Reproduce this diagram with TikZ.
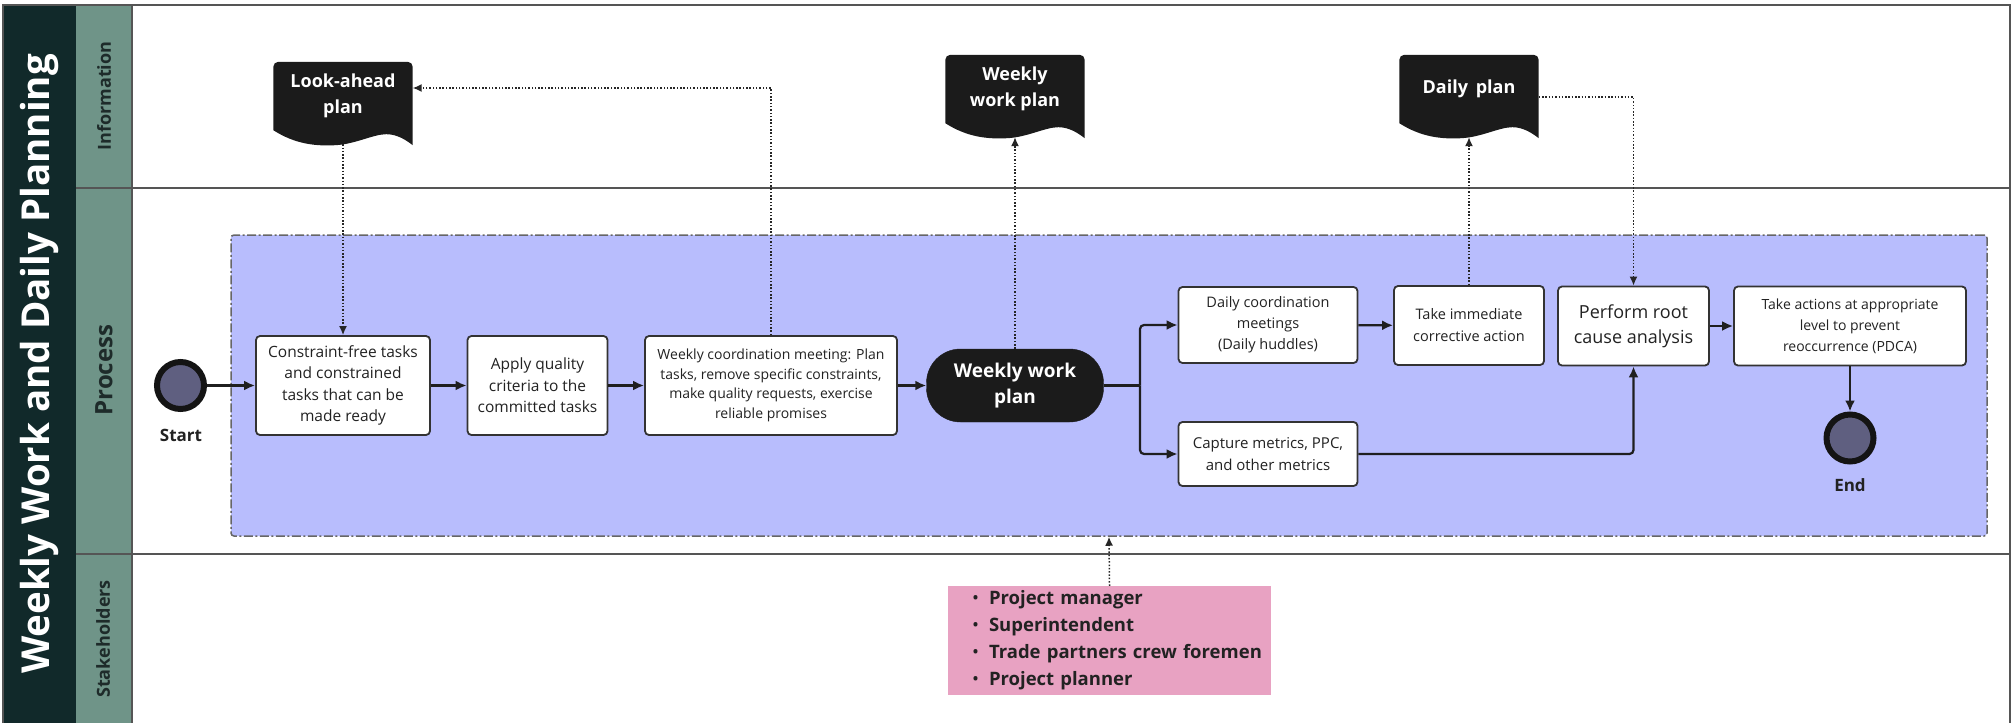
\documentclass[tikz,border=0pt]{standalone}
\usepackage{fontspec}
\setmainfont{Open Sans}
\usetikzlibrary{arrows.meta,calc}
\pgfdeclarelayer{bglayer}
\pgfdeclarelayer{doclayer}
\pgfsetlayers{bglayer,doclayer,main}
\definecolor{darkstrip}{HTML}{11292A}
\definecolor{greenstrip}{HTML}{6F9488}
\definecolor{lav}{HTML}{B8BDFD}
\definecolor{pinkbox}{HTML}{E8A2C2}
\definecolor{evfill}{HTML}{5F5F80}
\definecolor{docblack}{HTML}{1B1B1B}
\definecolor{boxline}{HTML}{333333}
\definecolor{laneline}{HTML}{555555}
\definecolor{txt}{HTML}{222222}
\definecolor{lanetxt}{HTML}{1E2B2A}
\newcommand{\docshape}[1]{%
  \begin{pgfonlayer}{doclayer}
  \fill[docblack] (#1.south west) [rounded corners=5pt] -- (#1.north west) -- (#1.north east) [sharp corners] -- ($(#1.south east)+(0,15)$)
    .. controls ($(#1.south west)+(133,10)$) and ($(#1.south west)+(124,4)$) .. ($(#1.south west)+(113,4)$)
    .. controls ($(#1.south west)+(100,4)$) and ($(#1.south west)+(82,14)$) .. ($(#1.south west)+(62,15)$)
    .. controls ($(#1.south west)+(42,16)$) and ($(#1.south west)+(22,14)$) .. (#1.south west) -- cycle;
  \end{pgfonlayer}}
\newcommand{\stakeitem}[1]{\hspace*{12pt}\makebox[17pt][l]{\mdseries\textbullet}\mbox{#1}}
\begin{document}
\begin{tikzpicture}[x=1pt,y=-1pt,
  taskbox/.style={draw=boxline,line width=1.8pt,fill=white,rounded corners=4pt,align=center,inner sep=2pt,text=txt,font=\fontsize{15.5}{21.5}\selectfont},
  planpill/.style={draw=docblack,fill=docblack,rounded corners=34pt,align=center,inner sep=2pt,text=white,font=\fontsize{19}{26}\selectfont\bfseries},
  evcircle/.style={circle,draw=black!92,line width=6pt,fill=evfill,minimum size=47pt,inner sep=0pt},
  evlabel/.style={text=txt,font=\fontsize{17}{20}\selectfont\bfseries,inner sep=0pt},
  docnode/.style={minimum width=139pt,minimum height=68pt,inner sep=0pt,align=center,text=white,font=\fontsize{18}{26}\selectfont\bfseries},
  lanelabel/.style={rotate=90,text=lanetxt,font=\fontsize{18}{21}\selectfont\bfseries,inner sep=0pt},
  flowarrow/.style={draw=black!88,line width=2.2pt,-{Latex[length=11pt,width=10pt]}},
  dotarrow/.style={draw=black!85,line width=1.5pt,dash pattern=on 1.5pt off 1.8pt,-{Latex[length=9pt,width=8pt]}},
  procarea/.style={draw=black!60,line width=1.5pt,fill=lav,rounded corners=3pt,dash pattern=on 9pt off 2.5pt on 2pt off 2.5pt,inner sep=0pt},
  stakebox/.style={fill=pinkbox,inner xsep=12pt,inner ysep=0pt,text width=299pt,align=left,text=txt,font=\fontsize{18.5}{27}\selectfont\bfseries}
]
\useasboundingbox (0,0) rectangle (2013,723);
\begin{pgfonlayer}{bglayer}
\fill[white] (0,0) rectangle (2013,723);
\end{pgfonlayer}
% lanes
\fill[darkstrip] (3,5) rectangle (76,723);
\fill[greenstrip] (76,5) rectangle (132,723);
\draw[laneline,line width=1.5pt] (3,723) -- (3,5) -- (2010,5) -- (2010,723);
\draw[laneline,line width=1.5pt] (76,188) -- (2010,188);
\draw[laneline,line width=1.5pt] (76,554) -- (2010,554);
\draw[laneline,line width=1.5pt] (132,5) -- (132,723);
\node[rotate=90,text=white,font=\fontsize{38.5}{44}\selectfont\bfseries] (title) at (39,364) {Weekly Work and Daily Planning};
\node[lanelabel] (lninfo) at (104,96) {Information};
\node[lanelabel,font=\fontsize{24}{28}\selectfont\bfseries] (lnproc) at (104,370) {Process};
\node[lanelabel] (lnstake) at (103,639) {Stakeholders};
% process container
\node[procarea,minimum width=1756pt,minimum height=301pt] (proc) at (1109,385.5) {};
% events
\node[evcircle] (start) at (180.5,385.5) {};
\node[evlabel] (startlbl) at (181,435) {Start};
\node[evcircle] (endc) at (1850,438) {};
\node[evlabel] (endlbl) at (1850,485) {End};
% tasks
\node[taskbox,minimum width=174pt,minimum height=99pt] (b1) at (343,385.5) {Constraint-free tasks\\and constrained\\tasks that can be\\made ready};
\node[taskbox,minimum width=140pt,minimum height=99pt] (b2) at (537.5,385.5) {Apply quality\\criteria to the\\committed tasks};
\node[taskbox,minimum width=252pt,minimum height=99pt,font=\fontsize{14}{19.5}\selectfont] (b3) at (771,385.5) {Weekly coordination meeting: Plan\\tasks, remove specific constraints,\\make quality requests, exercise\\reliable promises};
\node[planpill,minimum width=177pt,minimum height=73pt] (wwp) at (1015,385.5) {Weekly work\\plan};
\node[taskbox,minimum width=179pt,minimum height=76pt,font=\fontsize{14.5}{21}\selectfont] (b4) at (1268,325) {Daily coordination\\meetings\\(Daily huddles)};
\node[taskbox,minimum width=179pt,minimum height=64pt,font=\fontsize{15}{22}\selectfont] (b5) at (1268,454) {Capture metrics, PPC,\\and other metrics};
\node[taskbox,minimum width=150pt,minimum height=79pt,font=\fontsize{14.5}{22}\selectfont] (b6) at (1469,325.5) {Take immediate\\corrective action};
\node[taskbox,minimum width=151pt,minimum height=79pt,font=\fontsize{18}{25}\selectfont] (b7) at (1633.5,326) {Perform root\\cause analysis};
\node[taskbox,minimum width=232pt,minimum height=79pt,font=\fontsize{14}{21}\selectfont] (b8) at (1850,326) {Take actions at appropriate\\level to prevent\\reoccurrence (PDCA)};
% documents
\node[docnode] (la) at (343,96) {Look-ahead\\plan};
\docshape{la}
\node[docnode] (wd) at (1015,89) {Weekly\\work plan};
\docshape{wd}
\node[docnode] (dp) at (1469,89) {Daily\, plan};
\docshape{dp}
% stakeholders
\node[stakebox,minimum width=323pt,minimum height=109pt] (sh) at (1109.5,640.5) {%
\stakeitem{Project manager}\\
\stakeitem{Superintendent}\\
\stakeitem{Trade partners crew foremen}\\
\stakeitem{Project planner}};
% flow connectors
\coordinate (fork) at (1140,385.5);
\draw[flowarrow] (start) -- (b1);
\draw[flowarrow] (b1) -- (b2);
\draw[flowarrow] (b2) -- (b3);
\draw[flowarrow] (b3) -- (wwp);
\draw[draw=black!88,line width=2.2pt] (wwp.east) -- (fork);
\draw[flowarrow,rounded corners=4pt] (fork) |- (b4.west);
\draw[flowarrow,rounded corners=4pt] (fork) |- (b5.west);
\draw[flowarrow] (b4) -- (b6);
\draw[flowarrow] (b7) -- (b8);
\draw[flowarrow,rounded corners=4pt] (b5.east) -| (b7.south);
\draw[flowarrow] (b8.south) -- (endc.north);
% information connectors
\draw[dotarrow] ($(la.south)+(0,14)$) -- (b1.north);
\draw[dotarrow] (b3.north) |- ($(la.east)+(0,-8)$);
\draw[dotarrow] (wwp.north) -- ($(wd.south)+(0,14)$);
\draw[dotarrow] (b6.north) -- ($(dp.south)+(0,14)$);
\draw[dotarrow] ($(dp.east)+(0,8)$) -| (b7.north);
\draw[dotarrow] (sh.north) -- (proc.south);
\end{tikzpicture}
\end{document}
